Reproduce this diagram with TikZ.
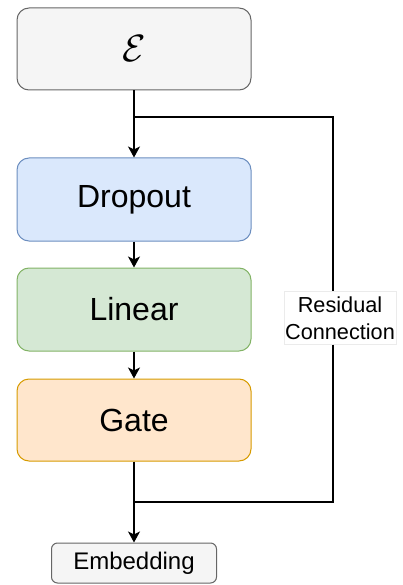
\RequirePackage{fix-cm}
\documentclass[tikz,border=0pt]{standalone}
\usepackage{fontspec}
\setmainfont{Liberation Sans}
\usepackage{tikz}
\usetikzlibrary{arrows.meta}
\definecolor{greyfill}{HTML}{F5F5F5}
\definecolor{greyline}{HTML}{666666}
\definecolor{bluefill}{HTML}{DAE8FC}
\definecolor{blueline}{HTML}{6C8EBF}
\definecolor{greenfill}{HTML}{D5E8D4}
\definecolor{greenline}{HTML}{82B366}
\definecolor{orangefill}{HTML}{FFE6CC}
\definecolor{orangeline}{HTML}{D79B00}
\tikzset{
  block/.style={draw, rounded corners=12pt, line width=1pt, inner sep=0pt,
    minimum width=234pt, minimum height=82pt,
    font={\fontsize{32pt}{38pt}\selectfont}},
  flow/.style={line width=1.3pt, -{Stealth[length=11pt,width=12pt,inset=3pt]}}}

\begin{document}
\begin{tikzpicture}[x=1pt,y=-1pt]
\useasboundingbox (0,0) rectangle (402,585);
% stages of the block
\node [block, fill=greyfill, draw=greyline] (enc) at (134,49)
  {\fontsize{38pt}{40pt}\selectfont$\mathcal{E}$};
\node [block, fill=bluefill, draw=blueline, minimum height=83pt] (drop) at (134,199.5) {Dropout};
\node [block, fill=greenfill, draw=greenline, minimum height=83pt] (lin) at (134,309.5) {Linear};
\node [block, fill=orangefill, draw=orangeline] (gate) at (134,420) {Gate};
\node [draw=greyline, fill=greyfill, rounded corners=6pt, line width=1pt, inner sep=0pt,
  minimum width=165pt, minimum height=40pt, font={\fontsize{24pt}{28pt}\selectfont}]
  (emb) at (134,563) {Embedding};
% skip path label
\node [fill=white, draw=black!8, inner sep=0pt, minimum width=112pt, minimum height=53pt,
  align=center, font={\fontsize{21.7pt}{27pt}\selectfont}] (res) at (340,318)
  {Residual\\Connection};
\coordinate (split) at (134,117);
\coordinate (merge) at (134,502);
% main path
\draw [flow] (enc.south) -- (drop.north);
\draw [flow] (drop.south) -- (lin.north);
\draw [flow] (lin.south) -- (gate.north);
\draw [flow] (gate.south) -- (emb.north);
% residual path
\draw [line width=1.3pt] (split) -- (333,117) -- (333,0 |- res.north);
\draw [line width=1.3pt] (333,0 |- res.south) -- (333,502) -- (merge);
\end{tikzpicture}
\end{document}
